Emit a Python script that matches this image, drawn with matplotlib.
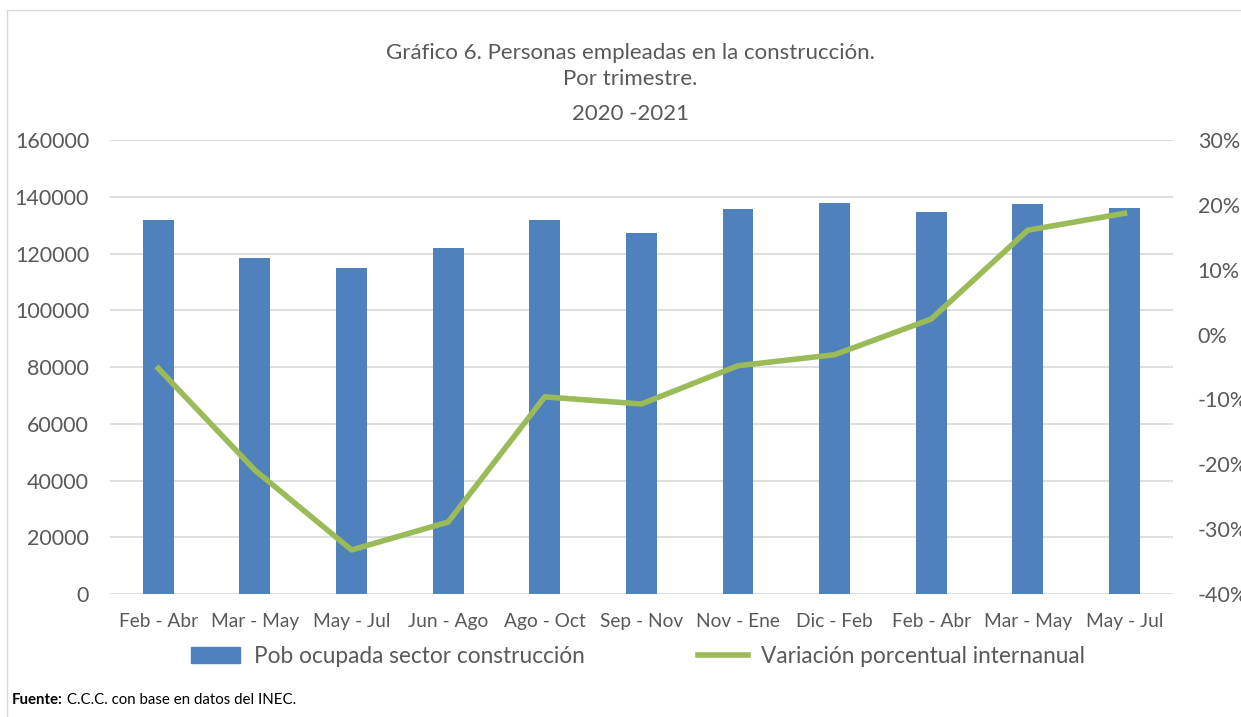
import matplotlib

matplotlib.use("Agg")
import matplotlib.pyplot as plt
import matplotlib.patches as mpatches
from matplotlib.lines import Line2D
from matplotlib.ticker import FuncFormatter
import numpy as np

periodos = ["Feb - Abr", "Mar - May", "May - Jul", "Jun - Ago", "Ago - Oct",
            "Sep - Nov", "Nov - Ene", "Dic - Feb", "Feb - Abr", "Mar - May",
            "May - Jul"]
ocupados = [131800, 118400, 114900, 122000, 131800, 127200, 135700,
            137800, 134600, 137500, 136200]
variacion = [-5.2, -20.9, -33.2, -28.9, -9.6, -10.7, -4.8, -3.1, 2.4, 16.1, 18.7]

BAR_COLOR = "#4F81BD"
LINE_COLOR = "#9BBB59"
TEXT = "#595959"
GRID = "#D9D9D9"

plt.rcParams["font.family"] = ["Lato", "DejaVu Sans"]

fig = plt.figure(figsize=(12.41, 7.17), dpi=100)
ax = fig.add_axes([0.0886, 0.1715, 0.8564, 0.6332])
x = np.arange(len(periodos))

ax.bar(x, ocupados, width=0.32, color=BAR_COLOR, zorder=2)
ax.set_ylim(0, 160000)
ax.set_yticks(range(0, 160001, 20000))
ax.set_xlim(-0.5, len(periodos) - 0.5)
ax.set_xticks(x)
ax.set_xticklabels(periodos, fontsize=13.8, color=TEXT)
ax.tick_params(axis="y", labelsize=15.5, colors=TEXT, length=0, pad=15)
ax.tick_params(axis="x", length=0, pad=14)
ax.grid(axis="y", color=GRID, linewidth=1.2, zorder=0)
for s in ax.spines.values():
    s.set_visible(False)

ax2 = ax.twinx()
ax2.plot(x, variacion, color=LINE_COLOR, linewidth=4, zorder=3)
ax2.set_ylim(-40, 30)
ax2.set_yticks(range(-40, 31, 10))
ax2.yaxis.set_major_formatter(FuncFormatter(lambda v, _: f"{v:.0f}%"))
ax2.tick_params(axis="y", labelsize=15.5, colors=TEXT, length=0, pad=18)
for s in ax2.spines.values():
    s.set_visible(False)

fig.text(0.508, 0.926, "Gráfico 6. Personas empleadas en la construcción.",
         ha="center", va="center", fontsize=16, color=TEXT)
fig.text(0.508, 0.890, "Por trimestre.", ha="center", va="center",
         fontsize=16, color=TEXT)
fig.text(0.508, 0.841, "2020 -2021", ha="center", va="center",
         fontsize=16, color=TEXT)

handles = [mpatches.Patch(color=BAR_COLOR, label="Pob ocupada sector construcción"),
           Line2D([], [], color=LINE_COLOR, linewidth=4,
                  label="Variación porcentual internanual")]
leg = fig.legend(handles=handles, loc="center", bbox_to_anchor=(0.514, 0.084),
                 ncol=2, frameon=False, fontsize=16.3, handlelength=2.2,
                 columnspacing=5.0, handletextpad=0.6)
for t in leg.get_texts():
    t.set_color(TEXT)

# nota de fuente: etiqueta en negrita seguida del texto normal
fuente = fig.text(0.0097, 0.024, "Fuente:", fontsize=10.8, weight="bold",
                  color="black", va="center")
fig.text(0, 0, " C.C.C. con base en datos del INEC.", fontsize=10.8,
         color="black", va="center", ha="left",
         transform=matplotlib.transforms.offset_copy(
             fig.transFigure, fig=fig, x=0, y=0))
fig.canvas.draw()
bb = fuente.get_window_extent().transformed(fig.transFigure.inverted())
fig.texts[-1].set_position((bb.x1, 0.024))

fig.patches.append(mpatches.Rectangle((0.006, -0.01), 1.2, 0.996,
                                      transform=fig.transFigure, fill=False,
                                      edgecolor="#D9D9D9", linewidth=1))

fig.savefig("out.png", dpi=100)
